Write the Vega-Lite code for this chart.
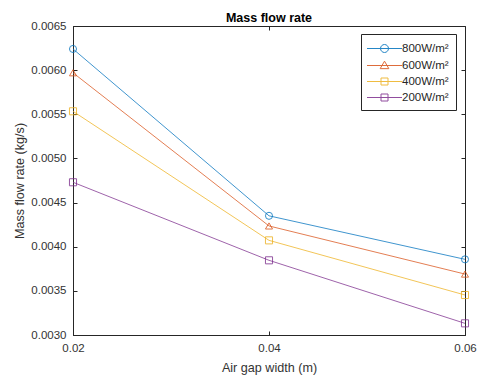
{
  "$schema": "https://vega.github.io/schema/vega-lite/v6.json",
  "width": 392,
  "height": 309,
  "autosize": "none",
  "padding": {"left": 73, "top": 26, "right": 13, "bottom": 41},
  "background": "white",
  "title": {"text": "Mass flow rate", "font": "Liberation Sans", "fontSize": 12.5, "fontWeight": "bold", "color": "#000000", "anchor": "middle", "offset": -4},
  "config": {
    "view": {"stroke": "#262626", "strokeWidth": 1},
    "axis": {"labelFont": "Liberation Sans", "titleFont": "Liberation Sans", "labelFontSize": 11.5, "titleFontSize": 12.6, "labelColor": "#333333", "titleColor": "#333333", "titleFontWeight": "normal", "domainColor": "#262626", "tickColor": "#262626", "grid": false, "labelFlush": false}
  },
  "data": {"values": [
    {"gap": 0.02, "flow": 0.00624, "series": "800W/m²"},
    {"gap": 0.04, "flow": 0.00435, "series": "800W/m²"},
    {"gap": 0.06, "flow": 0.003857, "series": "800W/m²"},
    {"gap": 0.02, "flow": 0.00597, "series": "600W/m²"},
    {"gap": 0.04, "flow": 0.004235, "series": "600W/m²"},
    {"gap": 0.06, "flow": 0.00369, "series": "600W/m²"},
    {"gap": 0.02, "flow": 0.005534, "series": "400W/m²"},
    {"gap": 0.04, "flow": 0.004072, "series": "400W/m²"},
    {"gap": 0.06, "flow": 0.003453, "series": "400W/m²"},
    {"gap": 0.02, "flow": 0.00473, "series": "200W/m²"},
    {"gap": 0.04, "flow": 0.003846, "series": "200W/m²"},
    {"gap": 0.06, "flow": 0.003132, "series": "200W/m²"}
  ]},
  "resolve": {"axis": {"x": "independent", "y": "independent"}},
  "layer": [
    {
      "transform": [{"filter": {"field": "gap", "lt": 0}}],
      "mark": {"type": "point", "filled": false, "strokeWidth": 1},
      "encoding": {
        "x": {"field": "gap", "type": "quantitative", "axis": null},
        "y": {"field": "flow", "type": "quantitative", "axis": null},
        "color": {"field": "series", "type": "nominal",
          "scale": {"domain": ["800W/m²", "600W/m²", "400W/m²", "200W/m²"], "range": ["#0072BD", "#D95319", "#EDB120", "#7E2F8E"]},
          "legend": {
            "title": null, "orient": "none", "legendX": 288, "legendY": 8,
            "labelFont": "Liberation Sans", "labelFontSize": 11.5, "labelColor": "#262626",
            "strokeColor": "#262626", "fillColor": "white", "padding": 7,
            "symbolSize": 196, "symbolOffset": 9, "labelOffset": 10, "rowPadding": 3,
            "symbolStrokeWidth": 1, "symbolOpacity": 0.85
          }
        },
        "shape": {"field": "series", "type": "nominal",
          "scale": {"domain": ["800W/m²", "600W/m²", "400W/m²", "200W/m²"],
            "range": ["M-2.5,0H2.5M0.571,0A0.571,0.571 0 1,1 -0.571,0A0.571,0.571 0 1,1 0.571,0Z", "M-2.5,0H2.5M0,-0.62L0.62,0.45L-0.62,0.45Z", "M-2.5,0H2.5M-0.5,-0.5H0.5V0.5H-0.5Z", "M-2.5,0H2.5M-0.5,-0.5H0.5V0.5H-0.5Z"]},
          "legend": {
            "title": null, "orient": "none", "legendX": 288, "legendY": 8,
            "labelFont": "Liberation Sans", "labelFontSize": 11.5, "labelColor": "#262626",
            "strokeColor": "#262626", "fillColor": "white", "padding": 7,
            "symbolSize": 196, "symbolOffset": 9, "labelOffset": 10, "rowPadding": 3,
            "symbolStrokeWidth": 1, "symbolOpacity": 0.85
          }
        }
      }
    },
    {
      "mark": {"type": "line", "strokeWidth": 1, "opacity": 0.75, "clip": false},
      "encoding": {
        "x": {"field": "gap", "type": "quantitative", "scale": {"domain": [0.02, 0.06], "nice": false, "zero": false},
              "axis": {"title": "Air gap width (m)", "values": [0.02, 0.04, 0.06], "format": ".2f", "tickSize": -4, "labelPadding": 11, "titlePadding": 8}},
        "y": {"field": "flow", "type": "quantitative", "scale": {"domain": [0.003, 0.0065], "nice": false, "zero": false},
              "axis": {"title": "Mass flow rate (kg/s)", "values": [0.003, 0.0035, 0.004, 0.0045, 0.005, 0.0055, 0.006, 0.0065], "format": ".4f", "tickSize": -4, "labelPadding": 11, "titlePadding": 4}},
        "color": {"field": "series", "type": "nominal"}
      }
    },
    {
      "transform": [{"filter": {"field": "series", "equal": "800W/m²"}}],
      "mark": {"type": "point", "shape": "circle", "filled": false, "size": 50, "strokeWidth": 1, "opacity": 0.8, "clip": false},
      "encoding": {
        "x": {"field": "gap", "type": "quantitative", "axis": {"orient": "top", "labels": false, "title": null, "domain": false, "values": [0.02, 0.04, 0.06], "tickSize": -4}},
        "y": {"field": "flow", "type": "quantitative", "axis": {"orient": "right", "labels": false, "title": null, "domain": false, "values": [0.003, 0.0035, 0.004, 0.0045, 0.005, 0.0055, 0.006, 0.0065], "tickSize": -4}},
        "color": {"field": "series", "type": "nominal"}
      }
    },
    {
      "transform": [{"filter": {"field": "series", "equal": "600W/m²"}}],
      "mark": {"type": "point", "shape": "triangle-up", "filled": false, "size": 50, "strokeWidth": 1, "opacity": 0.8, "clip": false},
      "encoding": {
        "x": {"field": "gap", "type": "quantitative", "axis": null},
        "y": {"field": "flow", "type": "quantitative", "axis": null},
        "color": {"field": "series", "type": "nominal"}
      }
    },
    {
      "transform": [{"filter": {"field": "series", "oneOf": ["400W/m²", "200W/m²"]}}],
      "mark": {"type": "point", "shape": "square", "filled": false, "size": 50, "strokeWidth": 1, "opacity": 0.8, "clip": false},
      "encoding": {
        "x": {"field": "gap", "type": "quantitative", "axis": null},
        "y": {"field": "flow", "type": "quantitative", "axis": null},
        "color": {"field": "series", "type": "nominal"}
      }
    }
  ]
}
